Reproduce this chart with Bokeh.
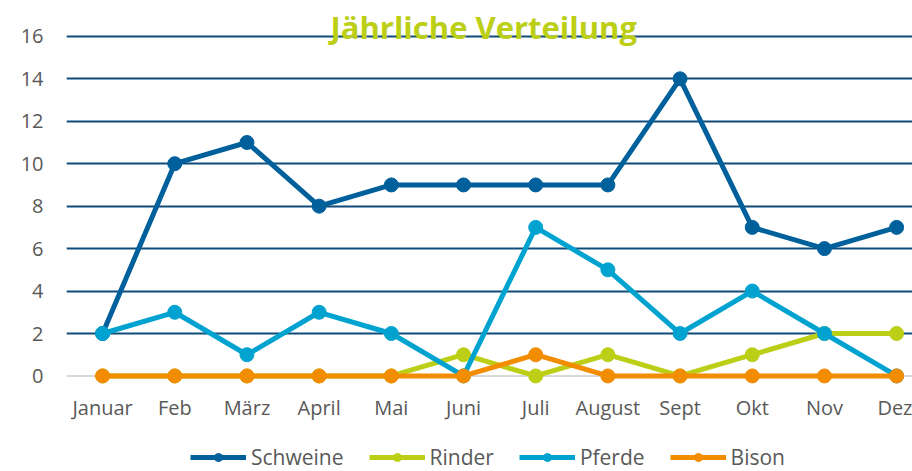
from bokeh.plotting import figure
from bokeh.models import Range1d, FixedTicker, Legend, LegendItem, Label, Span
from bokeh.layouts import column
from bokeh.embed import file_html
from bokeh.resources import INLINE

months = ["Januar", "Feb", "März", "April", "Mai", "Juni", "Juli", "August", "Sept", "Okt", "Nov", "Dez"]
schweine = [2, 10, 11, 8, 9, 9, 9, 9, 14, 7, 6, 7]
rinder = [0, 0, 0, 0, 0, 1, 0, 1, 0, 1, 2, 2]
pferde = [2, 3, 1, 3, 2, 0, 7, 5, 2, 4, 2, 0]
bison = [0, 0, 0, 0, 0, 0, 1, 0, 0, 0, 0, 0]
y_ticks = [0, 2, 4, 6, 8, 10, 12, 14, 16]

series = [
    ("Schweine", schweine, "#00609c"),
    ("Rinder", rinder, "#bccf16"),
    ("Pferde", pferde, "#00a3d0"),
    ("Bison", bison, "#f28c00"),
]

xs = list(range(len(months)))
FONT = "Open Sans"

p = figure(width=912, height=423, output_backend="svg", toolbar_location=None,
           x_range=Range1d(-0.5, 11.22), y_range=Range1d(-0.45, 17.69),
           min_border_left=66, min_border_right=0, min_border_top=0, min_border_bottom=35)
p.outline_line_color = None
p.background_fill_color = "white"

p.xaxis.ticker = FixedTicker(ticks=xs)
p.xaxis.major_label_overrides = {i: m for i, m in enumerate(months)}
p.yaxis.ticker = FixedTicker(ticks=y_ticks)
for ax in (p.xaxis, p.yaxis):
    ax.major_tick_line_color = None
    ax.minor_tick_line_color = None
    ax.major_label_text_font = FONT
    ax.major_label_text_font_size = "20px"
    ax.major_label_text_color = "#595959"
    ax.axis_line_color = None
p.xaxis.major_label_standoff = 2
p.yaxis.major_label_standoff = 17

p.xgrid.grid_line_color = None
p.ygrid.ticker = FixedTicker(ticks=y_ticks[1:])
p.ygrid.grid_line_color = "#0f4c7a"
p.ygrid.grid_line_width = 2

zero = Span(location=0, dimension="width", line_color="#d9d9d9", line_width=2, level="underlay")
p.add_layout(zero)

for name, vals, col in series:
    p.line(xs, vals, line_color=col, line_width=5)
    p.scatter(xs, vals, size=14, fill_color=col, line_color=col)

title = Label(x=5.28, y=16.42, text="Jährliche Verteilung", text_align="center",
              text_baseline="middle", text_font=FONT, text_font_style="bold",
              text_font_size="31px", text_color="#bccf16")
p.add_layout(title)

# legend strip below the chart (its series lie outside its visible range)
q = figure(width=912, height=48, output_backend="svg", toolbar_location=None,
           x_range=Range1d(100, 101), y_range=Range1d(100, 101),
           min_border_left=0, min_border_right=0, min_border_top=0, min_border_bottom=0)
q.outline_line_color = None
q.axis.visible = False
q.grid.visible = False
items = []
for name, vals, col in series:
    l = q.line(xs, vals, line_color=col, line_width=5)
    s = q.scatter(xs, vals, size=14, fill_color=col, line_color=col)
    items.append(LegendItem(label=name, renderers=[l, s]))
legend = Legend(items=items, orientation="horizontal", location=(124, 0),
                border_line_alpha=0, background_fill_alpha=0,
                label_text_font=FONT, label_text_font_size="21px", label_text_color="#595959",
                glyph_width=56, glyph_height=20, spacing=25, label_standoff=5,
                padding=0, margin=0)
q.add_layout(legend, "center")

open("out.html", "w").write(file_html(column(p, q, spacing=0), INLINE))
